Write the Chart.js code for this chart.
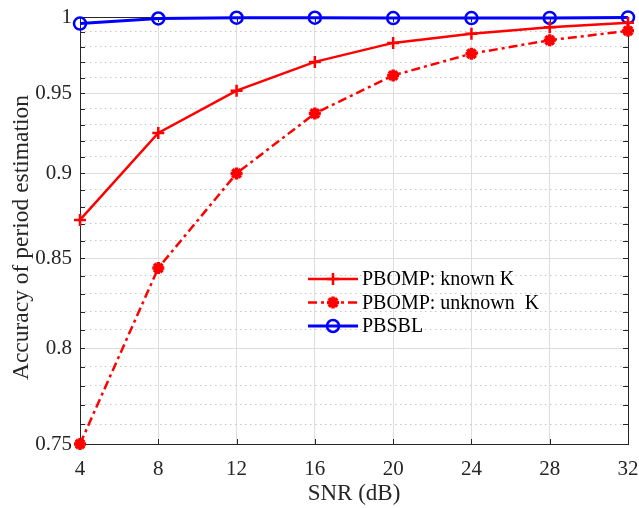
<!DOCTYPE html>
<html>
<head>
<meta charset="utf-8">
<script src="https://cdn.jsdelivr.net/npm/chart.js@4/dist/chart.umd.min.js"></script>
<style>
  body { margin: 0; background: #fff; }
  canvas { display: block; }
</style>
</head>
<body>
<canvas id="accChart" width="639" height="508"></canvas>
<script>
// values
const snr = [4, 8, 12, 16, 20, 24, 28, 32];
const pbompKnown = [0.8722, 0.9249, 0.9516, 0.9702, 0.9827, 0.9887, 0.9931, 0.9961];
const pbompUnknown = [0.7500, 0.8444, 0.9000, 0.9371, 0.9614, 0.9756, 0.9845, 0.9907];
const pbsbl = [0.9956, 0.9990, 0.9995, 0.9995, 0.9993, 0.9993, 0.9994, 0.9997];

const seriesNames = ['PBOMP: known K', 'PBOMP: unknown  K', 'PBSBL'];
const xTicks = [4, 8, 12, 16, 20, 24, 28, 32];
const yTickLabels = [0.75, 0.8, 0.85, 0.9, 0.95, 1];
const yTitle = 'Accuracy of period estimation';

const FONT = '"Liberation Serif", "Times New Roman", serif';
const AXIS_COLOR = '#262626';

// minor ticks every 0.01 between the labelled ones
const yMinorTicks = [];
for (let k = 75; k <= 100; k++) yMinorTicks.push(k / 100);

function isMajor(v) {
    return yTickLabels.some(t => Math.abs(t - v) < 1e-6);
}

function toPoints(values) {
    return snr.map((x, i) => ({ x: x, y: values[i] }));
}

function setYTicks(scale) {
    scale.ticks = yMinorTicks.map(v => ({ value: v }));
}

// MATLAB style box with inward ticks
const axesBox = {
    id: 'axesBox',
    beforeDatasetsDraw(chart) {
        const { ctx, chartArea: a, scales } = chart;
        ctx.save();
        ctx.strokeStyle = AXIS_COLOR;
        ctx.lineWidth = 1;
        ctx.beginPath();
        scales.y.ticks.forEach(t => {
            const py = Math.round(scales.y.getPixelForValue(t.value)) + 0.5;
            ctx.moveTo(a.left, py); ctx.lineTo(a.left + 5, py);
            ctx.moveTo(a.right, py); ctx.lineTo(a.right - 5, py);
        });
        scales.x.ticks.forEach(t => {
            const px = Math.round(scales.x.getPixelForValue(t.value)) + 0.5;
            ctx.moveTo(px, a.bottom); ctx.lineTo(px, a.bottom - 5);
            ctx.moveTo(px, a.top); ctx.lineTo(px, a.top + 5);
        });
        ctx.stroke();
        ctx.strokeRect(Math.round(a.left) + 0.5, Math.round(a.top) + 0.5,
            Math.round(a.right - a.left), Math.round(a.bottom - a.top));

        // y axis title, a bit below the axis centre like the original
        ctx.translate(22, (a.top + a.bottom) / 2 + 7);
        ctx.rotate(-Math.PI / 2);
        ctx.fillStyle = AXIS_COLOR;
        ctx.font = '23.5px ' + FONT;
        ctx.textAlign = 'center';
        ctx.textBaseline = 'middle';
        ctx.fillText(yTitle, 0, 0);
        ctx.restore();
    }
};

// legend inside the axes, no frame
const insideLegend = {
    id: 'insideLegend',
    afterDatasetsDraw(chart) {
        const { ctx, chartArea: a } = chart;
        const x0 = a.left + 228;
        const y0 = a.top + 262;
        const rowH = 23.5;
        chart.data.datasets.forEach((ds, i) => {
            const y = y0 + i * rowH;
            ctx.save();
            ctx.strokeStyle = ds.borderColor;
            ctx.lineWidth = ds.borderWidth;
            ctx.setLineDash(ds.borderDash || []);
            ctx.beginPath();
            ctx.moveTo(x0, y);
            ctx.lineTo(x0 + 50, y);
            ctx.stroke();
            ctx.setLineDash([]);
            ctx.fillStyle = ds.pointBackgroundColor;
            ctx.lineWidth = ds.pointBorderWidth;
            Chart.helpers.drawPoint(ctx, {
                pointStyle: ds.pointStyle,
                radius: ds.pointRadius,
                borderWidth: ds.pointBorderWidth,
                rotation: 0
            }, x0 + 25, y);
            ctx.fillStyle = '#000';
            ctx.font = '20px ' + FONT;
            ctx.textBaseline = 'middle';
            ctx.fillText(ds.label, x0 + 54, y + 1);
            ctx.restore();
        });
    }
};

new Chart(document.getElementById('accChart'), {
    type: 'line',
    data: {
        datasets: [
            {
                label: seriesNames[0],
                data: toPoints(pbompKnown),
                borderColor: '#ff0000',
                borderWidth: 2.5,
                pointStyle: 'cross',
                pointRadius: 6,
                pointBorderWidth: 2.5,
                pointBorderColor: '#ff0000',
                pointBackgroundColor: '#ff0000',
                clip: false
            },
            {
                label: seriesNames[1],
                data: toPoints(pbompUnknown),
                borderColor: '#ff0000',
                borderWidth: 2.5,
                borderDash: [9, 4, 3, 4],
                pointStyle: 'star',
                pointRadius: 6,
                pointBorderWidth: 3.5,
                pointBorderColor: '#ff0000',
                pointBackgroundColor: '#ff0000',
                clip: false
            },
            {
                label: seriesNames[2],
                data: toPoints(pbsbl),
                borderColor: '#0000ff',
                borderWidth: 3,
                pointStyle: 'circle',
                pointRadius: 6,
                pointBorderWidth: 2.5,
                pointBorderColor: '#0000ff',
                pointBackgroundColor: 'rgba(0,0,0,0)',
                clip: false
            }
        ]
    },
    options: {
        responsive: false,
        animation: false,
        layout: { padding: { top: 17, right: 11, left: 0, bottom: 0 } },
        plugins: { legend: { display: false }, tooltip: { enabled: false } },
        scales: {
            x: {
                type: 'linear',
                min: 4,
                max: 32,
                afterBuildTicks: s => { s.ticks = xTicks.map(v => ({ value: v })); },
                afterFit: s => { s.height = 64; s.paddingLeft = 0; s.paddingRight = 0; },
                grid: { color: '#dedede', lineWidth: 1, drawTicks: false },
                border: { display: false },
                ticks: {
                    color: AXIS_COLOR,
                    font: { family: FONT, size: 21 },
                    padding: 13,
                    maxRotation: 0,
                    callback: v => String(v)
                },
                title: {
                    display: true,
                    text: 'SNR (dB)',
                    color: AXIS_COLOR,
                    font: { family: FONT, size: 23 },
                    padding: { top: 0, bottom: 0 }
                }
            },
            y: {
                type: 'logarithmic',
                min: 0.75,
                max: 1,
                afterBuildTicks: setYTicks,
                afterFit: s => { s.width = 80; s.paddingTop = 0; s.paddingBottom = 0; },
                grid: {
                    color: c => (c.tick && isMajor(c.tick.value)) ? '#dedede' : 'rgba(0,0,0,0)',
                    lineWidth: 1,
                    drawTicks: false
                },
                border: { display: false },
                ticks: {
                    color: AXIS_COLOR,
                    font: { family: FONT, size: 21 },
                    padding: 8,
                    autoSkip: false,
                    callback: v => isMajor(v) ? String(parseFloat(v.toFixed(2))) : ''
                }
            },
            yMinor: {
                type: 'logarithmic',
                position: 'left',
                min: 0.75,
                max: 1,
                afterBuildTicks: setYTicks,
                afterFit: s => { s.width = 0; s.paddingTop = 0; s.paddingBottom = 0; },
                grid: {
                    color: c => (c.tick && isMajor(c.tick.value)) ? 'rgba(0,0,0,0)' : '#c8c8c8',
                    lineWidth: 1,
                    drawTicks: false
                },
                border: { display: false, dash: [1.5, 3.5] },
                ticks: { display: false }
            }
        }
    },
    plugins: [axesBox, insideLegend]
});
</script>
</body>
</html>
